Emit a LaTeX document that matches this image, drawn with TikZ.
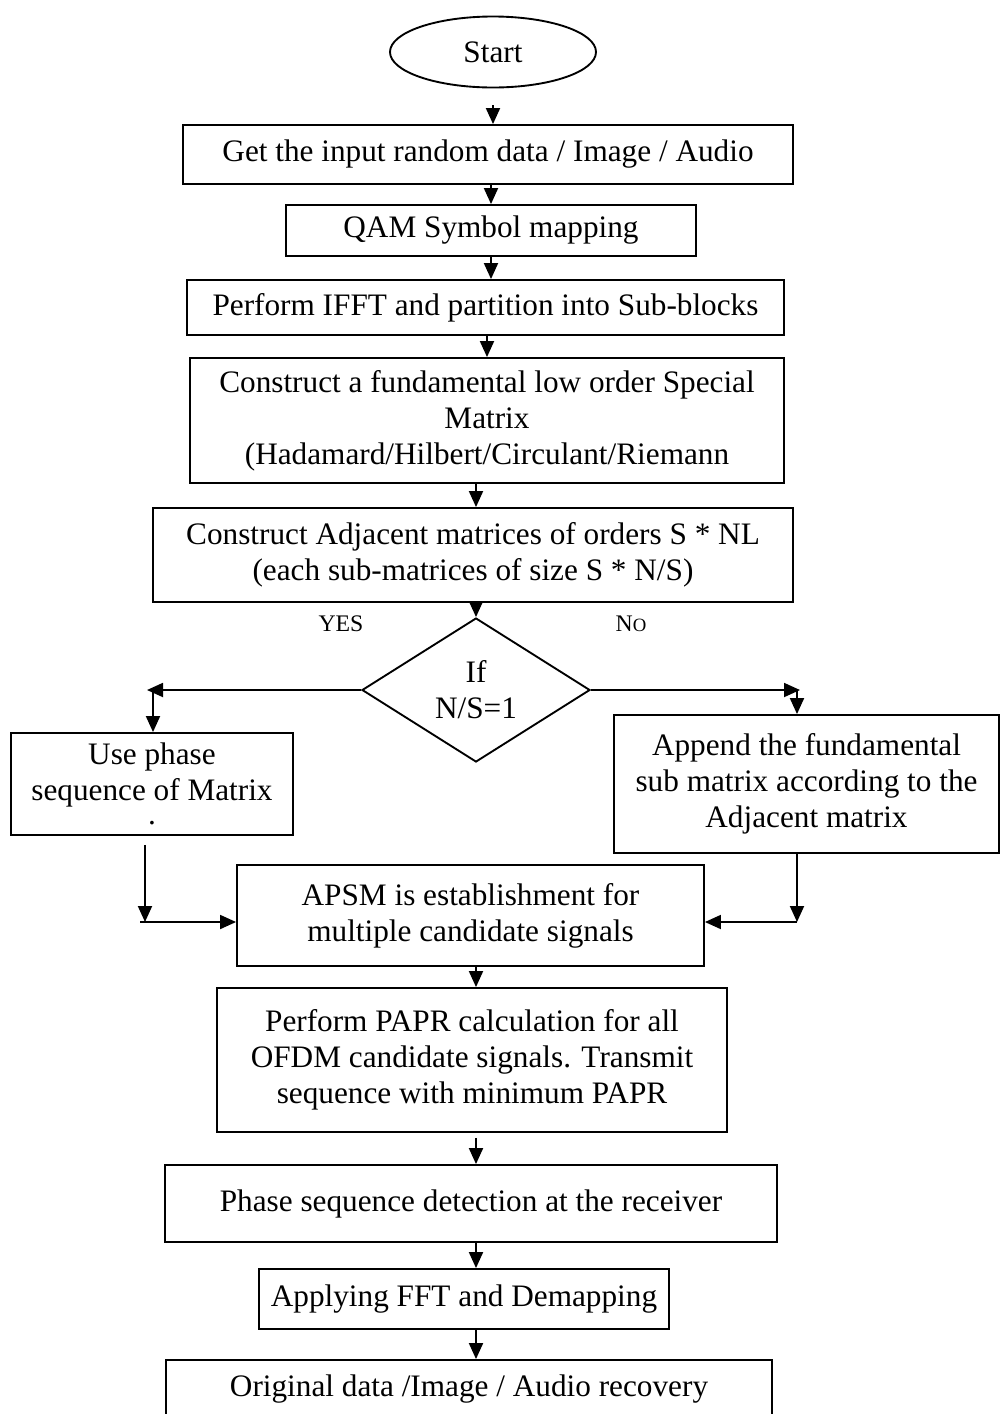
\documentclass[tikz,border=0pt]{standalone}
\usepackage{fontspec}
\setmainfont{Liberation Serif}
\usetikzlibrary{shapes.geometric, arrows.meta}

\begin{document}
\begin{tikzpicture}[
  x = 0.4pt, y = -0.4pt,
  line width = 0.75pt,
  block/.style = {rectangle, draw, align = center, inner sep = 1pt,
    font = \fontsize{12.5}{14.4}\selectfont},
  terminal/.style = {ellipse, draw, inner sep = 0pt,
    font = \fontsize{12.5}{14.4}\selectfont},
  decision/.style = {diamond, draw, align = center, inner sep = 0pt,
    font = \fontsize{12.5}{14.4}\selectfont},
  answer/.style = {font = \fontsize{9.5}{11}\selectfont},
  flow/.style = {-{Triangle[length = 6.4pt, width = 5.6pt]}}
  ]

  \useasboundingbox (0, 0) rectangle (1000, 1414);

  % Nodes
  \node at (493, 52) [terminal, name = start,
    minimum width = 82.4pt, minimum height = 28.4pt] {Start};
  \node at (488, 154.5) [block, name = input,
    minimum width = 244pt, minimum height = 23.6pt]
    {Get the input random data / Image / Audio};
  \node at (491, 230.5) [block, name = qam,
    minimum width = 164pt, minimum height = 20.4pt] {QAM Symbol mapping};
  \node at (485.5, 307.5) [block, name = ifft,
    minimum width = 238.8pt, minimum height = 22pt]
    {Perform IFFT and partition into Sub-blocks};
  \node at (487, 420.5) [block, name = special,
    minimum width = 237.6pt, minimum height = 50pt]
    {Construct a fundamental low order Special\\Matrix\\(Hadamard/Hilbert/Circulant/Riemann};
  \node at (473, 555) [block, name = adjacent,
    minimum width = 256pt, minimum height = 37.6pt]
    {Construct Adjacent matrices of orders S * NL\\(each sub-matrices of size S * N/S)};

  \node at (476, 690) [decision, name = check,
    minimum width = 91.2pt, minimum height = 57.6pt] {If\\N/S=1};
  \node at (341, 624) [answer, name = yes] {YES};
  \node at (631, 624) [answer, name = no] {N{\fontsize{7.5}{9}\selectfont O}};

  \node at (152, 784) [block, name = usephase,
    minimum width = 112.8pt, minimum height = 40.8pt]
    {Use phase\\sequence of Matrix\\[-5pt].};
  \node at (806.5, 784) [block, name = append,
    minimum width = 154pt, minimum height = 55.2pt]
    {Append the fundamental\\sub matrix according to the\\Adjacent matrix};

  \node at (470.5, 915.5) [block, name = apsm,
    minimum width = 186.8pt, minimum height = 40.4pt]
    {APSM is establishment for\\multiple candidate signals};
  \node at (472, 1060) [block, name = papr,
    minimum width = 204pt, minimum height = 57.6pt]
    {Perform PAPR calculation for all\\OFDM candidate signals. Transmit\\sequence with minimum PAPR};
  \node at (471, 1203.5) [block, name = detect,
    minimum width = 244.8pt, minimum height = 30.8pt]
    {Phase sequence detection at the receiver};
  \node at (464, 1299) [block, name = fft,
    minimum width = 164pt, minimum height = 24pt]
    {Applying FFT and Demapping};
  \node at (469, 1389) [block, name = recover,
    minimum width = 242.4pt, minimum height = 23.2pt]
    {Original data /Image / Audio recovery};

  % Branch corners
  \coordinate (yesend) at (147, 690);
  \coordinate (yesdown) at (153, 690);
  \coordinate (yesjoin) at (145, 922);
  \coordinate (noend) at (800, 690);
  \coordinate (nodown) at (797, 690);
  \coordinate (nojoin) at (797, 922);

  % Main flow
  \draw [flow, shorten <= 6.8pt] (start.south) -- (start.south |- input.north);
  \draw [flow] (qam.north |- input.south) -- (qam.north);
  \draw [flow] (qam.south) -- (qam.south |- ifft.north);
  \draw [flow] (special.north |- ifft.south) -- (special.north);
  \draw [flow] (check.north |- special.south) -- (check.north |- adjacent.north);
  \draw [flow] (check.north |- adjacent.south) -- (check.north);

  % Yes branch
  \draw [flow] (check.west) -- (yesend);
  \draw [flow] (yesdown) -- (yesdown |- usephase.north);
  \draw [flow, shorten <= 3.6pt] (usephase.south -| yesjoin) -- (yesjoin);
  \draw [flow] ([xshift = -2pt]yesjoin) -- (yesjoin -| apsm.west);

  % No branch
  \draw [flow] (check.east) -- (noend);
  \draw [flow] (nodown) -- (nodown |- append.north);
  \draw [flow] (append.south -| nojoin) -- (nojoin);
  \draw [flow] (nojoin) -- (nojoin -| apsm.east);

  % Transmit and receive
  \draw [flow] (check.south |- apsm.south) -- (check.south |- papr.north);
  \draw [flow, shorten <= 2pt] (check.south |- papr.south) -- (check.south |- detect.north);
  \draw [flow] (check.south |- detect.south) -- (check.south |- fft.north);
  \draw [flow] (check.south |- fft.south) -- (check.south |- recover.north);

\end{tikzpicture}
\end{document}
